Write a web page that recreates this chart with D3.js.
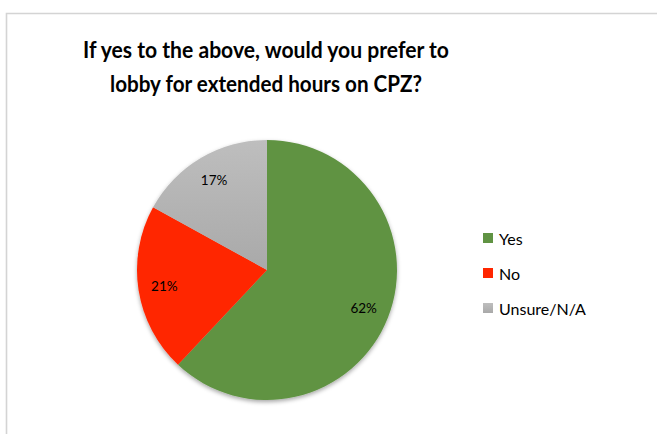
<!DOCTYPE html>
<html>
<head>
<meta charset="utf-8">
<script src="https://cdn.jsdelivr.net/npm/d3@7"></script>
<style>
  html, body { margin: 0; padding: 0; background: #fff; }
  svg { display: block; }
</style>
</head>
<body>
<svg id="chart" width="657" height="434"></svg>
<script>
// Survey answers, in drawing order (clockwise from 12 o'clock)
const categories = ["Yes", "No", "Unsure/N/A"];
const values = [62, 21, 17];
const colors = ["#609343", "#FF2600", "#B3B3B3"];
const titleLines = ["If yes to the above, would you prefer to", "lobby for extended hours on CPZ?"];

const svg = d3.select("#chart");
const W = 657, H = 434;
const font = "Lato, 'Open Sans', sans-serif";

// Chart frame (extends past the right and bottom edges)
svg.append("path")
  .attr("d", `M6.5,${H + 2} V13.5 H${W + 2}`)
  .attr("fill", "none")
  .attr("stroke", "#d4d4d4")
  .attr("stroke-width", 1.6);

const defs = svg.append("defs");
const shadow = defs.append("filter").attr("id", "pieShadow")
  .attr("x", "-20%").attr("y", "-20%").attr("width", "140%").attr("height", "140%");
shadow.append("feDropShadow")
  .attr("dx", 0).attr("dy", 2).attr("stdDeviation", 2.2)
  .attr("flood-color", "#000").attr("flood-opacity", 0.35);

const grayGrad = defs.append("linearGradient").attr("id", "grayGrad")
  .attr("x1", 0).attr("y1", 0).attr("x2", 0).attr("y2", 1);
grayGrad.append("stop").attr("offset", "0%").attr("stop-color", "#BEBEBE");
grayGrad.append("stop").attr("offset", "100%").attr("stop-color", "#A9A9A9");

// Title
const title = svg.append("text")
  .attr("text-anchor", "middle")
  .attr("font-family", font)
  .attr("font-weight", 700)
  .attr("font-size", 23)
  .attr("fill", "#000");
title.selectAll("tspan").data(titleLines).join("tspan")
  .attr("x", 266)
  .attr("y", (d, i) => 58 + i * 34)
  .attr("textLength", (d, i) => i === 0 ? 366 : 312)
  .attr("lengthAdjust", "spacingAndGlyphs")
  .text(d => d);

// Pie
const cx = 267, cy = 270, r = 130;
const pie = d3.pie().sort(null).value(d => d.value);
const arcs = pie(categories.map((c, i) => ({ cat: c, value: values[i], i })));
const arc = d3.arc().innerRadius(0).outerRadius(r);
const labelArc = d3.arc().innerRadius(r * 0.8).outerRadius(r * 0.8);

const g = svg.append("g").attr("transform", `translate(${cx},${cy})`);
g.append("g").attr("filter", "url(#pieShadow)")
  .selectAll("path").data(arcs).join("path")
  .attr("d", arc)
  .attr("fill", d => d.data.i === 2 ? "url(#grayGrad)" : colors[d.data.i]);

const total = d3.sum(values);
g.selectAll("text.lbl").data(arcs).join("text")
  .attr("class", "lbl")
  .attr("transform", d => `translate(${labelArc.centroid(d)})`)
  .attr("text-anchor", "middle")
  .attr("dy", "0.35em")
  .attr("font-family", font)
  .attr("font-size", 13.5)
  .attr("fill", "#000")
  .text(d => Math.round(d.data.value / total * 100) + "%");

// Legend
const legend = svg.append("g").attr("transform", "translate(483,233)");
const item = legend.selectAll("g").data(categories).join("g")
  .attr("transform", (d, i) => `translate(0,${i * 35})`);
item.append("rect")
  .attr("width", 10).attr("height", 10)
  .attr("fill", (d, i) => i === 2 ? "url(#grayGrad)" : colors[i]);
item.append("text")
  .attr("x", 16).attr("y", 6).attr("dy", "0.35em")
  .attr("font-family", font)
  .attr("font-size", 16)
  .attr("fill", "#000")
  .text(d => d);
</script>
</body>
</html>
